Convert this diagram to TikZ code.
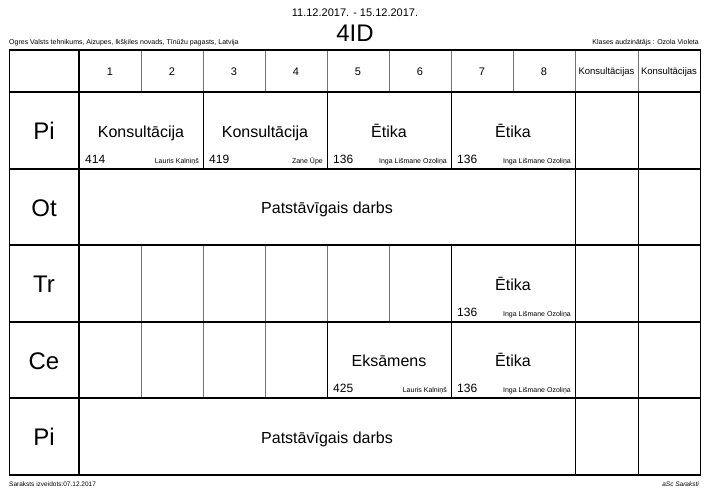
\documentclass[tikz,border=0pt]{standalone}
\usepackage{fontspec}
\setmainfont{Liberation Sans}
\begin{document}
\begin{tikzpicture}[x=1pt,y=-1pt,
  gridline/.style={draw=black!55, line width=0.8pt},
  lessonline/.style={draw=black, line width=0.9pt},
  rowline/.style={draw=black, line width=1.1pt},
  frameline/.style={draw=black, line width=1.7pt},
  subj/.style={anchor=base, inner sep=0pt, font=\fontsize{16}{18}\selectfont},
  room/.style={anchor=base west, inner sep=0pt, font=\fontsize{12}{14}\selectfont},
  teacher/.style={anchor=base east, inner sep=0pt, font=\fontsize{7}{8}\selectfont},
  daylbl/.style={anchor=base, inner sep=0pt, font=\fontsize{24}{28}\selectfont},
  hourlbl/.style={anchor=base, inner sep=0pt, font=\fontsize{11}{13}\selectfont},
  conslbl/.style={anchor=base, inner sep=0pt, font=\fontsize{9.5}{11}\selectfont},
  tinytxt/.style={inner sep=0pt, font=\fontsize{7}{8}\selectfont}]
\useasboundingbox (0,0) rectangle (711,501);

% ---- header texts
\node[anchor=base, inner sep=0pt, font=\fontsize{11}{13}\selectfont] (dates) at (355,16) {11.12.2017. - 15.12.2017.};
\node[anchor=base, inner sep=0pt, font=\fontsize{24}{28}\selectfont] (cls) at (355,41) {4ID};
\node[tinytxt, anchor=base west] (school) at (9,44) {Ogres Valsts tehnikums, Aizupes, Ikšķiles novads, Tīnūžu pagasts, Latvija};
\node[tinytxt, anchor=base east] (tutor) at (699,44) {Klases audzinātājs : Ozola Violeta};
\node[tinytxt, anchor=base west, font=\fontsize{6.5}{8}\selectfont] (created) at (9,486) {Saraksts izveidots:07.12.2017};
\node[tinytxt, anchor=base east, font=\fontsize{6.5}{8}\itshape] (asc) at (699,486) {aSc Saraksti};

% ---- vertical lines: header row
\foreach \x in {141,203,265,327,389,451,513,575,638}
  \draw[gridline] (\x,50) -- (\x,92);
% row 1 (Pi)
\foreach \x in {203,327,451,575,638}
  \draw[lessonline] (\x,92) -- (\x,169);
% row 2 (Ot)
\foreach \x in {575,638}
  \draw[lessonline] (\x,169) -- (\x,245);
% row 3 (Tr)
\foreach \x in {141,203,265,327,389}
  \draw[gridline] (\x,245) -- (\x,322);
\foreach \x in {451,575,638}
  \draw[lessonline] (\x,245) -- (\x,322);
% row 4 (Ce)
\foreach \x in {141,203,265}
  \draw[gridline] (\x,322) -- (\x,398);
\foreach \x in {327,451,575,638}
  \draw[lessonline] (\x,322) -- (\x,398);
% row 5 (Pi)
\foreach \x in {575,638}
  \draw[lessonline] (\x,398) -- (\x,475);

% ---- horizontal lines
\foreach \y in {169,245,322,398}
  \draw[rowline] (9.5,\y) -- (700.5,\y);
\draw[frameline] (9.5,92) -- (700.5,92);
\draw[frameline] (79,50) -- (79,475);
\draw[frameline] (9.5,50) rectangle (700.5,475);

% ---- column headers
\foreach \i/\x in {1/110,2/172,3/234,4/296,5/358,6/420,7/482,8/544}
  \node[hourlbl] (h\i) at (\x,75) {\i};
\node[conslbl] (hk1) at (606.5,74.5) {Konsultācijas};
\node[conslbl] (hk2) at (669,74.5) {Konsultācijas};

% ---- day labels
\node[daylbl] (d1) at (44,139.5) {Pi};
\node[daylbl] (d2) at (44,216) {Ot};
\node[daylbl] (d3) at (44,292.5) {Tr};
\node[daylbl] (d4) at (44,369) {Ce};
\node[daylbl] (d5) at (44,445.5) {Pi};

% ---- Monday
\node[subj] (s11) at (141,137) {Konsultācija};
\node[room] (r11) at (85,163) {414};
\node[teacher] (t11) at (199,163) {Lauris Kalniņš};
\node[subj] (s12) at (265,137) {Konsultācija};
\node[room] (r12) at (209,163) {419};
\node[teacher] (t12) at (323,163) {Zane Ūpe};
\node[subj] (s13) at (389,137) {Ētika};
\node[room] (r13) at (333,163) {136};
\node[teacher] (t13) at (447,163) {Inga Lišmane Ozoliņa};
\node[subj] (s14) at (513,137) {Ētika};
\node[room] (r14) at (457,163) {136};
\node[teacher] (t14) at (571,163) {Inga Lišmane Ozoliņa};

% ---- Tuesday
\node[subj] (s21) at (327,213) {Patstāvīgais darbs};

% ---- Wednesday
\node[subj] (s31) at (513,290) {Ētika};
\node[room] (r31) at (457,316) {136};
\node[teacher] (t31) at (571,316) {Inga Lišmane Ozoliņa};

% ---- Thursday
\node[subj] (s41) at (389,366) {Eksāmens};
\node[room] (r41) at (333,392) {425};
\node[teacher] (t41) at (447,392) {Lauris Kalniņš};
\node[subj] (s42) at (513,366) {Ētika};
\node[room] (r42) at (457,392) {136};
\node[teacher] (t42) at (571,392) {Inga Lišmane Ozoliņa};

% ---- Friday
\node[subj] (s51) at (327,443) {Patstāvīgais darbs};
\end{tikzpicture}
\end{document}
